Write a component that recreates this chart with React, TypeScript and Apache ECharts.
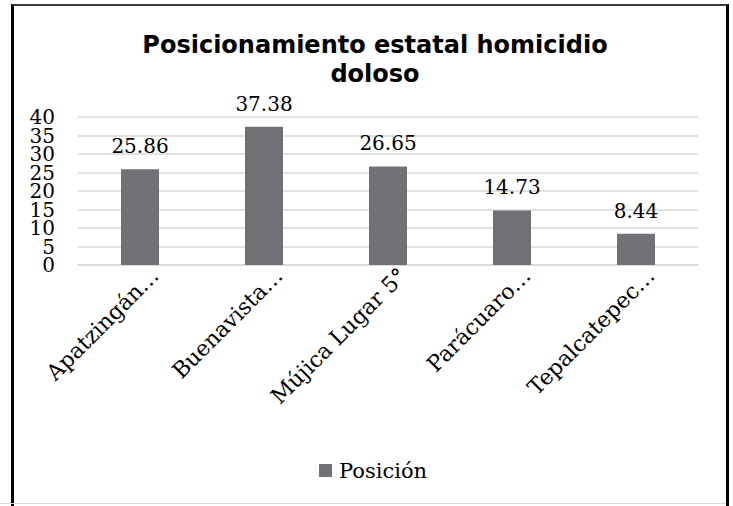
import React, { useEffect, useRef } from "react";
import * as echarts from "echarts";

const categories = ["Apatzingán…", "Buenavista…", "Mújica Lugar 5°", "Parácuaro…", "Tepalcatepec…"];
const seriesName = "Posición";
const values = [25.86, 37.38, 26.65, 14.73, 8.44];
const titleText = "Posicionamiento estatal homicidio\ndoloso";
const yMin = 0;
const yMax = 40;
const yStep = 5;

const SERIF = "'DejaVu Serif', serif";
const SANS = "'DejaVu Sans', sans-serif";

export default function App() {
  const ref = useRef<HTMLDivElement>(null);
  useEffect(() => {
    if (!ref.current) return;
    const chart = echarts.init(ref.current, undefined, { renderer: "svg" });
    const yLabelStyle = { margin: 23, fontFamily: SERIF, fontSize: 20, color: "#000000", hideOverlap: false };
    // Labels are split over two coincident axes so that the tightly packed ticks are all drawn.
    const isEven = (v: number) => Math.round(v / yStep) % 2 === 0;
    chart.setOption({
      animation: false,
      backgroundColor: "#ffffff",
      title: {
        text: titleText,
        left: 370,
        textAlign: "center",
        top: 25,
        textStyle: {
          fontFamily: SANS,
          fontWeight: "bold",
          fontSize: 24,
          lineHeight: 29,
          color: "#000000",
        },
      },
      legend: {
        left: 319,
        top: 460,
        padding: 0,
        icon: "rect",
        itemWidth: 13,
        itemHeight: 13,
        textStyle: { fontFamily: SERIF, fontSize: 21, color: "#000000", padding: [0, 0, 0, 2] },
        data: [seriesName],
      },
      grid: { left: 78, right: 35, top: 117, bottom: 241, containLabel: false },
      xAxis: {
        type: "category",
        data: categories,
        axisLine: { lineStyle: { color: "#d9d9d9", width: 1.5 } },
        axisTick: { show: false },
        axisLabel: {
          interval: 0,
          rotate: 45,
          margin: -8,
          align: "right",
          verticalAlign: "top",
          padding: [10, 0, 0, 0],
          fontFamily: SERIF,
          fontSize: 22,
          color: "#000000",
        },
      },
      yAxis: [
        {
          type: "value",
          min: yMin,
          max: yMax,
          interval: yStep,
          position: "left",
          axisLine: { show: false },
          axisTick: { show: false },
          axisLabel: {
            ...yLabelStyle,
            showMinLabel: true,
            showMaxLabel: true,
            formatter: (v: number) => (isEven(v) ? String(v) : ""),
          },
          splitLine: { lineStyle: { color: "#d9d9d9", width: 1.5 } },
        },
        {
          type: "value",
          min: yMin,
          max: yMax,
          interval: yStep,
          position: "left",
          offset: 0,
          axisLine: { show: false },
          axisTick: { show: false },
          axisLabel: {
            ...yLabelStyle,
            showMinLabel: false,
            showMaxLabel: false,
            formatter: (v: number) => (isEven(v) ? "" : String(v)),
          },
          splitLine: { show: false },
        },
      ],
      series: [
        {
          name: seriesName,
          type: "bar",
          data: values,
          yAxisIndex: 0,
          barWidth: 38,
          itemStyle: { color: "#717175" },
          label: {
            show: true,
            position: "top",
            distance: 13,
            fontFamily: SERIF,
            fontSize: 20,
            color: "#000000",
            formatter: (p: any) => p.value.toFixed(2),
          },
        },
      ],
    });
    return () => chart.dispose();
  }, []);

  return (
    <div style={{ position: "absolute", left: 0, top: 0, width: 733, height: 506, background: "#fff", overflow: "hidden" }}>
      <div ref={ref} style={{ position: "absolute", left: 0, top: 0, width: 733, height: 506 }} />
      <div
        style={{
          position: "absolute",
          left: 11,
          top: 4,
          width: 718,
          height: 510,
          boxSizing: "border-box",
          borderLeft: "3px solid #000",
          borderRight: "3px solid #000",
          borderTop: "2px solid #3a3a3a",
          pointerEvents: "none",
        }}
      />
      <div style={{ position: "absolute", left: 0, top: 503, width: 726, height: 1, background: "#d9d9d9", pointerEvents: "none" }} />
    </div>
  );
}
